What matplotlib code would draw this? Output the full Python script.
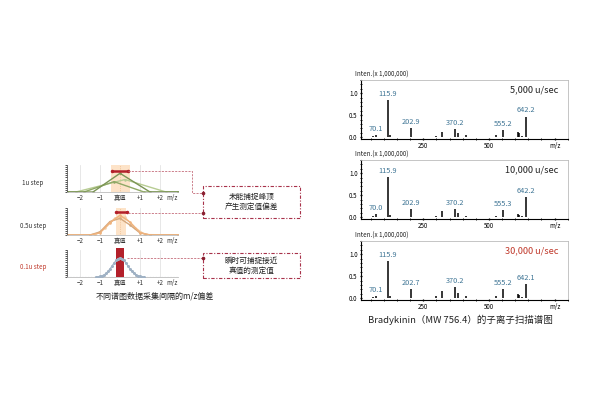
import matplotlib
matplotlib.use('Agg')
import matplotlib.pyplot as plt
from matplotlib.patches import Rectangle
from matplotlib.lines import Line2D
from matplotlib.ticker import MultipleLocator
import numpy as np

plt.rcParams['font.family'] = ['Noto Sans CJK SC', 'DejaVu Sans']

# ---------------- data ----------------
row_labels = ['1u step', '0.5u step', '0.1u step']
offset_ticks = [-2, -1, 0, 1, 2]
offset_tick_labels = ['−2', '−1', '真值', '+1', '+2']

# 1u step profiles (green)
g1_x = [-2.65, -1.35, 0.0, 1.5, 2.9]
g1_y = [0.0, 0.0, 0.9, 0.0, 0.0]
g2_x = [-2.65, -2.2, 0.25, 2.3, 2.9]
g2_y = [0.0, 0.0, 0.6, 0.0, 0.0]
g3_x = [-2.65, -1.8, -0.3, 1.2, 2.9]
g3_y = [0.0, 0.0, 0.5, 0.0, 0.0]

# 0.5u step profiles (orange)
o1_x = [-2.65, -1.5, -1.0, -0.5, 0.0, 0.5, 1.0, 1.5, 2.9]
o1_y = [0.0, 0.0, 0.1, 0.6, 0.95, 0.62, 0.12, 0.0, 0.0]
o2_x = [-2.65, -1.25, -0.75, -0.25, 0.25, 0.75, 1.25, 2.9]
o2_y = [0.0, 0.0, 0.32, 0.82, 0.85, 0.35, 0.02, 0.0]
o3_x = [-2.65, -1.5, -1.0, -0.5, 0.0, 0.5, 1.0, 1.5, 2.9]
o3_y = [0.0, 0.0, 0.15, 0.65, 0.8, 0.48, 0.1, 0.0, 0.0]

# 0.1u step profile (blue-grey)
b_x = [-1.2, -1.1, -1.0, -0.9, -0.8, -0.7, -0.6, -0.5, -0.4, -0.3, -0.2, -0.1, 0.0,
       0.1, 0.2, 0.3, 0.4, 0.5, 0.6, 0.7, 0.8, 0.9, 1.0, 1.1, 1.2]
b_y = [0.0, 0.01, 0.03, 0.06, 0.1, 0.17, 0.27, 0.39, 0.53, 0.67, 0.8, 0.89, 0.92,
       0.89, 0.8, 0.67, 0.53, 0.39, 0.27, 0.17, 0.1, 0.06, 0.03, 0.01, 0.0]

true_mark_y = [1.0, 1.1, 1.4]

# spectra
spec_speeds = ['5,000 u/sec', '10,000 u/sec', '30,000 u/sec']
spec_mz = [60, 70.1, 115.9, 125, 202.9, 300, 322, 370.2, 383, 413, 527, 555.2, 610, 615, 625, 642.2]
spec_int = [
    [0.03, 0.05, 0.84, 0.05, 0.21, 0.02, 0.12, 0.19, 0.10, 0.05, 0.05, 0.16, 0.12, 0.10, 0.03, 0.47],
    [0.03, 0.07, 0.91, 0.05, 0.18, 0.02, 0.14, 0.18, 0.09, 0.03, 0.03, 0.16, 0.08, 0.04, 0.02, 0.45],
    [0.03, 0.05, 0.84, 0.04, 0.21, 0.05, 0.16, 0.25, 0.13, 0.05, 0.04, 0.21, 0.10, 0.07, 0.03, 0.33],
]
label_mz = [70.1, 115.9, 202.9, 370.2, 555.2, 642.2]
label_int = [
    [0.05, 0.84, 0.21, 0.19, 0.16, 0.47],
    [0.07, 0.91, 0.18, 0.18, 0.16, 0.45],
    [0.05, 0.84, 0.21, 0.25, 0.21, 0.33],
]
label_txt = [
    ['70.1', '115.9', '202.9', '370.2', '555.2', '642.2'],
    ['70.0', '115.9', '202.9', '370.2', '555.3', '642.2'],
    ['70.1', '115.9', '202.7', '370.2', '555.2', '642.1'],
]

# ---------------- layout helpers ----------------
W, H = 600, 400
fig = plt.figure(figsize=(6, 4), dpi=100)
fig.patch.set_facecolor('white')


def rect(l, t, r, b):
    return [l / W, 1 - b / H, (r - l) / W, (b - t) / H]


def fx(x):
    return x / W


def fy(y):
    return 1 - y / H


RED = '#b3202a'
DASH_RED = '#a8324a'

# ---------------- left panel ----------------
left_rows = [(165, 192), (208, 235), (250, 277)]
row_label_y = [183, 226, 267]
row_label_col = ['#333333', '#333333', '#c0392b']

profiles = [
    [(g2_x, g2_y, '#b7cc93'), (g3_x, g3_y, '#8fa866'), (g1_x, g1_y, '#7b9455')],
    [(o2_x, o2_y, '#f2cfa6'), (o3_x, o3_y, '#d4a77c'), (o1_x, o1_y, '#efb27c')],
    [(b_x, b_y, '#9fb1c4')],
]
bands = [(-0.45, 0.5), (-0.2, 0.3), None]
for i, (top, base) in enumerate(left_rows):
    ax = fig.add_axes(rect(67, top, 178, base))
    ax.set_xlim(-2.65, 2.9)
    ax.set_ylim(0, 1.3)
    for s in ['top', 'right']:
        ax.spines[s].set_visible(False)
    ax.spines['bottom'].set_color('#bbbbbb')
    ax.spines['bottom'].set_linewidth(0.6)
    ax.spines['left'].set_color('#444444')
    ax.spines['left'].set_linewidth(0.5)
    ax.yaxis.set_major_locator(MultipleLocator(0.1))
    ax.tick_params(axis='y', length=1.5, width=0.6, labelleft=False, color='#333333')
    ax.set_xticks(offset_ticks)
    ax.set_xticklabels(offset_tick_labels, fontsize=4.5, color='#333333')
    ax.tick_params(axis='x', length=0, pad=1.5)
    for t in offset_ticks:
        ax.axvline(t, color='#dddddd', lw=0.5, zorder=0)
    ax.text(2.62, -0.08, 'm/z', transform=ax.get_xaxis_transform(), fontsize=4.5,
            style='italic', ha='center', va='top', color='#333333')
    if bands[i] is not None:
        ax.axvspan(bands[i][0], bands[i][1], color='#fde3c8', zorder=0.5, lw=0)
        ax.axvline(0, color='#e8b07a', lw=0.5, ls=':', zorder=0.6)
    for xs, ys, c in profiles[i]:
        if i == 2:
            ax.axhline(0, color=c, lw=0.8, ls=':', zorder=1)
            ax.plot(xs, ys, color=c, lw=0.8, marker='o', ms=1.2, zorder=3)
        else:
            ax.plot(xs, ys, color=c, lw=1.0, marker='o', ms=0.8, zorder=2)
    if i == 0:
        ax.plot([-0.4, 0.4], [true_mark_y[0]] * 2, color=RED, lw=1.8, marker='o', ms=1.5,
                solid_capstyle='butt', zorder=4)
    elif i == 1:
        ax.plot([-0.2, 0.35], [true_mark_y[1]] * 2, color=RED, lw=1.8, marker='o', ms=1.5,
                solid_capstyle='butt', zorder=4)
    else:
        ax.bar([0], [true_mark_y[2]], width=0.38, color=RED, zorder=2, clip_on=False)
    fig.text(fx(33), fy(row_label_y[i]), row_labels[i], fontsize=4.5, ha='center', va='center',
             color=row_label_col[i])

fig.text(fx(155), fy(296), '不同谱图数据采集间隔的m/z偏差', fontsize=5.8, ha='center', va='center',
         color='#222222')

# connectors
dash = (0, (2.5, 1.5))
conn = [
    ([128, 192, 192, 203], [171, 171, 193, 193]),
    ([128, 203], [213, 213]),
    ([127, 203], [258, 258]),
]
for xs, ys in conn:
    fig.add_artist(Line2D([fx(x) for x in xs], [fy(y) for y in ys], transform=fig.transFigure,
                          color='#c46a78', lw=0.6, ls=dash))
for (x, y) in [(203, 193), (203, 213), (203, 258)]:
    fig.add_artist(Line2D([fx(x)], [fy(y)], transform=fig.transFigure, marker='o', ms=1.6,
                          color='#8a1f30', lw=0))

boxes = [(203, 186, 300, 218, ['未能捕捉峰顶', '产生测定值偏差']),
         (203, 253, 300, 278, ['瞬时可捕捉接近', '真值的测定值'])]
for l, t, r, b, lines in boxes:
    fig.add_artist(Rectangle((fx(l), fy(b)), (r - l) / W, (b - t) / H, transform=fig.transFigure,
                             fill=False, ec=DASH_RED, lw=0.8, ls=(0, (3, 1.5, 1, 1.5))))
    cy = (t + b) / 2
    fig.text(fx((l + r) / 2), fy(cy - 5), lines[0], fontsize=5.5, ha='center', va='center', color='#222222')
    fig.text(fx((l + r) / 2), fy(cy + 5), lines[1], fontsize=5.5, ha='center', va='center', color='#222222')

# ---------------- right panel: spectra ----------------
spec_tops = [80, 160, 241]
spec_h = 59
speed_col = ['#222222', '#222222', '#c0392b']
for i, top in enumerate(spec_tops):
    ax = fig.add_axes(rect(361, top, 568, top + spec_h))
    ax.set_xlim(13, 801)
    ax.set_ylim(-0.04, 1.3)
    ax.vlines(spec_mz, 0, spec_int[i], color='black', lw=1.1)
    for m, h, t in zip(label_mz, label_int[i], label_txt[i]):
        ax.annotate(t, (m, h), xytext=(0, 1.5), textcoords='offset points', ha='center', va='bottom',
                    fontsize=5.3, color='#3f7595')
    for s in ['top', 'right']:
        ax.spines[s].set_color('#bbbbbb')
        ax.spines[s].set_linewidth(0.6)
    for s in ['left', 'bottom']:
        ax.spines[s].set_color('black')
        ax.spines[s].set_linewidth(0.8)
    ax.set_yticks([0, 0.5, 1.0])
    ax.set_yticklabels(['0.0', '0.5', '1.0'], fontsize=4.5)
    ax.yaxis.set_minor_locator(MultipleLocator(0.1))
    ax.set_xticks([250, 500, 750])
    ax.set_xticklabels(['250', '500', 'm/z'], fontsize=4.5)
    ax.xaxis.set_minor_locator(MultipleLocator(50))
    ax.tick_params(which='major', length=2, width=0.9, pad=1.5, direction='inout')
    ax.tick_params(which='minor', length=1.5, width=0.6, direction='inout')
    ax.text(0.955, 0.83, spec_speeds[i], transform=ax.transAxes, ha='right', va='center',
            fontsize=6.6, color=speed_col[i])
    ax.text(-0.03, 1.03, 'Inten.(x 1,000,000)', transform=ax.transAxes, ha='left', va='bottom',
            fontsize=4.5, color='#222222')

fig.text(fx(460), fy(320), 'Bradykinin（MW 756.4）的子离子扫描谱图', fontsize=6.8, ha='center',
         va='center', color='#222222')

fig.savefig('out.png', dpi=100, facecolor='white')
